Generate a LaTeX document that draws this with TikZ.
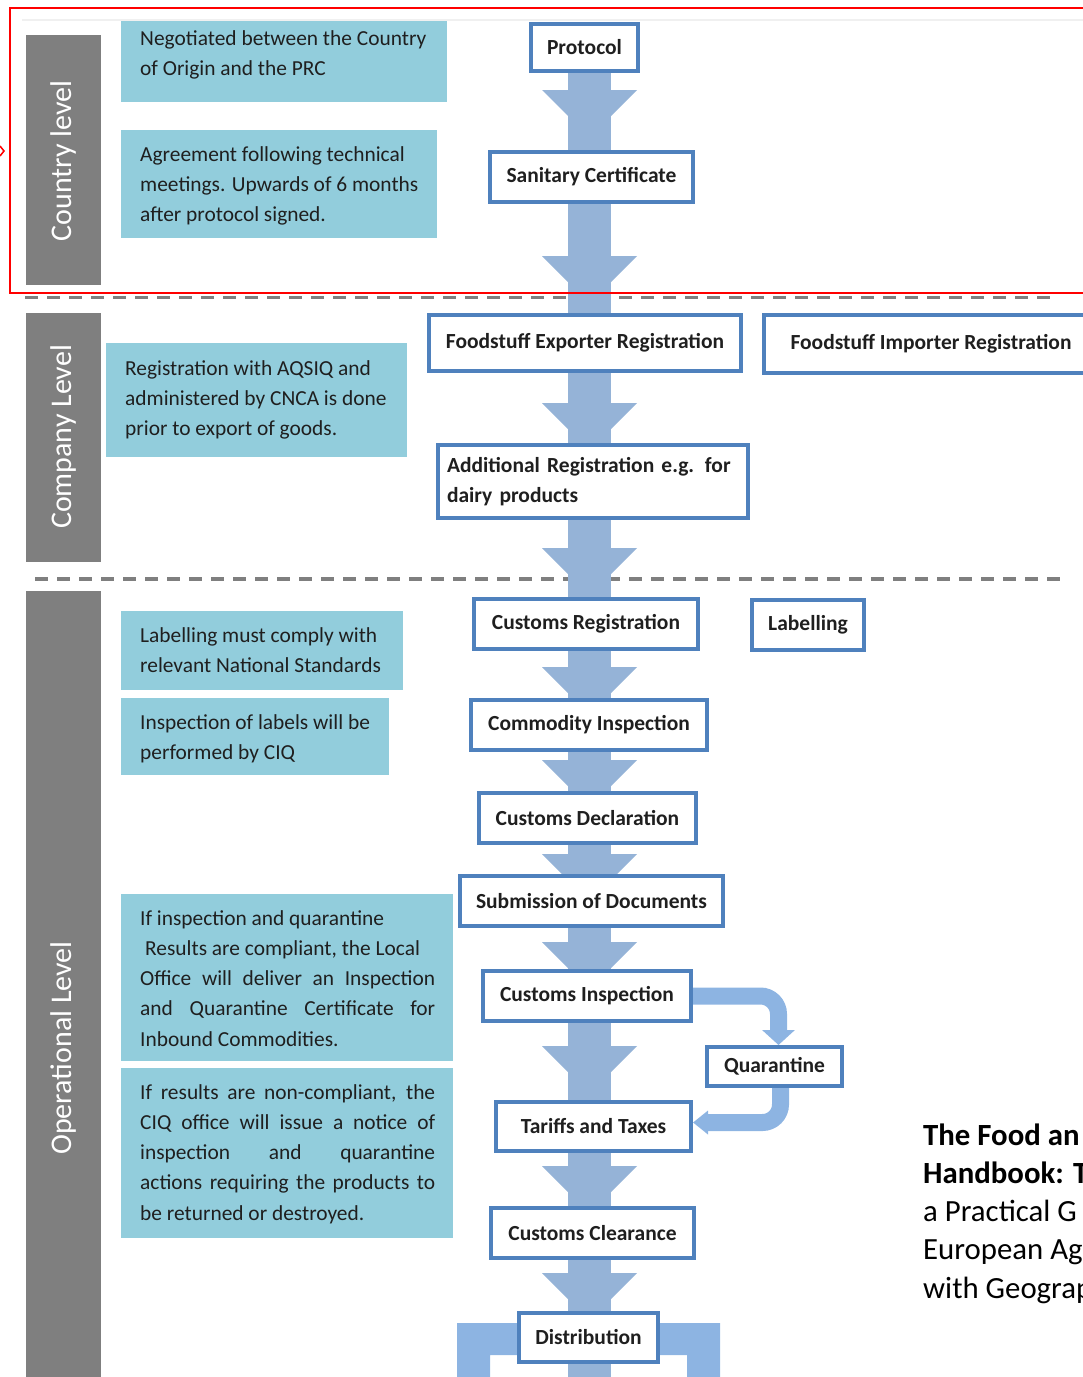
\documentclass[tikz,border=0pt]{standalone}
\usepackage{fontspec}
\setmainfont{Carlito}
\usetikzlibrary{arrows.meta,backgrounds,calc}

\definecolor{boxblue}{HTML}{4F81BD}
\definecolor{shaftblue}{HTML}{95B3D7}
\definecolor{bendblue}{HTML}{8DB4E2}
\definecolor{noteteal}{HTML}{92CDDC}
\definecolor{bargray}{HTML}{7F7F7F}
\definecolor{inkgray}{HTML}{1F1F1F}

\newcommand{\jl}[1]{\makebox[295pt][s]{#1}}

\begin{document}
\begin{tikzpicture}[x=1pt,y=-1pt]

    \tikzset{
      stepbox/.style={
        draw=boxblue,
        line width=4pt,
        fill=white,
        inner sep=0pt,
        text=inkgray,
        font=\fontsize{21.5}{30}\selectfont\bfseries,
      },
      note/.style={anchor=base west, inner sep=0pt, align=left, text=inkgray, font=\fontsize{21.4}{30.3}\selectfont},
      level/.style={rotate=90, text=white, font=\fontsize{30}{36}\selectfont},
      shaft/.style={draw=shaftblue, line width=43pt},
      bendarrow/.style={draw=bendblue, line width=17pt, rounded corners=18pt},
      dashline/.style={draw=bargray, dash pattern=on 13pt off 9pt},
    }
    \useasboundingbox (0,0) rectangle (1083,1377);
    \clip (0,0) rectangle (1083,1377);

    \draw[gray!12, line width=2pt] (22,20) -- (1083,20);
    \draw[red, line width=2.5pt] (10,8) rectangle (1090,293);
    \draw[red, line width=1.5pt] (0,146) -- (4,151) -- (0,156);

    \coordinate (sx) at (589.5,0);
    \coordinate (bot) at (589.5,1377);

    \node[stepbox, minimum width=107pt, minimum height=47pt] (proto) at (584.5,47.5) {Protocol};
    \node[stepbox, minimum width=203pt, minimum height=50pt] (sanit) at (591.5,177) {Sanitary Certificate};
    \node[stepbox, minimum width=312pt, minimum height=56pt] (expreg) at (585,343) {Foodstuff Exporter Registration};
    \node[stepbox, minimum width=334pt, minimum height=58pt] (impreg) at (931,344) {Foodstuff Importer Registration};
    \node[stepbox, minimum width=310pt, minimum height=73pt, text width=292pt, inner xsep=9pt, align=left] (addreg) at (593,481.5) {Additional Registration e.g. for\\dairy products};
    \node[stepbox, minimum width=224pt, minimum height=50pt] (custreg) at (586,624) {Customs Registration};
    \node[stepbox, minimum width=112pt, minimum height=50pt] (label) at (808,625) {Labelling};
    \node[stepbox, minimum width=236pt, minimum height=50pt] (commod) at (589,725) {Commodity Inspection};
    \node[stepbox, minimum width=217pt, minimum height=50pt] (decl) at (587.5,818) {Customs Declaration};
    \node[stepbox, minimum width=263pt, minimum height=50pt] (submit) at (591.5,901) {Submission of Documents};
    \node[stepbox, minimum width=208pt, minimum height=50pt] (cinsp) at (587,996) {Customs Inspection};
    \node[stepbox, minimum width=135pt, minimum height=39pt] (quar) at (774.5,1066.5) {Quarantine};
    \node[stepbox, minimum width=195pt, minimum height=49pt] (tariff) at (593.5,1126.5) {Tariffs and Taxes};
    \node[stepbox, minimum width=203pt, minimum height=50pt] (clear) at (592.5,1233) {Customs Clearance};
    \node[stepbox, minimum width=139pt, minimum height=49pt] (dist) at (588.5,1337.5) {Distribution};

    \node[level] (lvcountry) at (63.5,161) {Country level};
    \node[level] (lvcompany) at (63.5,437) {Company Level};
    \node[level] (lvoper) at (63.5,1048) {Operational Level};

    \node[note] (n1) at (140,75.3) {Negotiated between the Country\\of Origin and the PRC};
    \node[note] (n2) at (140,221.6) {Agreement following technical\\meetings. Upwards of 6 months\\after protocol signed.};
    \node[note] (n3) at (125,435.6) {Registration with AQSIQ and\\administered by CNCA is done\\prior to export of goods.};
    \node[note] (n4) at (140,672.3) {Labelling must comply with\\relevant National Standards};
    \node[note] (n5) at (140,759.3) {Inspection of labels will be\\performed by CIQ};
    \node[note] (n6) at (140,1046.2) {If inspection and quarantine\\\hspace{5pt}Results are compliant, the Local\\\jl{Office will deliver an Inspection}\\\jl{and Quarantine Certificate for}\\Inbound Commodities.};
    \node[note] (n7) at (140,1220.2) {\jl{If results are non-compliant, the}\\\jl{CIQ office will issue a notice of}\\\jl{inspection and quarantine}\\\jl{actions requiring the products to}\\be returned or destroyed.};

    \node[anchor=base west, inner sep=0pt, align=left, font=\fontsize{30.8}{38.3}\selectfont] (book) at (923,1298.2) {\textbf{The Food an}\\\textbf{Handbook: T}\\a Practical G\\European Ag\\with Geograp};

    \begin{scope}[on background layer]
      \fill[noteteal] (121,20) rectangle (447,102);
      \fill[noteteal] (121,130) rectangle (437,238);
      \fill[noteteal] (106,343) rectangle (407,457);
      \fill[noteteal] (121,611) rectangle (403,690);
      \fill[noteteal] (121,698) rectangle (389,775);
      \fill[noteteal] (121,894) rectangle (453,1061);
      \fill[noteteal] (121,1068) rectangle (453,1238);

      \fill[bargray] (26,35) rectangle (101,285);
      \fill[bargray] (26,313) rectangle (101,562);
      \fill[bargray] (26,591) rectangle (101,1377);

      \draw[dashline, line width=3pt] (25,297) -- (1050,297);
      \draw[dashline, line width=4.5pt] (35,579) -- (1062,579);

      \foreach \a/\b in {proto/sanit,sanit/expreg,expreg/addreg,addreg/custreg,custreg/commod,commod/decl,decl/submit,submit/cinsp,cinsp/tariff,tariff/clear,clear/dist}
        \draw[shaft] (\a.south -| sx) -- (\b.north -| sx);
      \draw[shaft] (dist.south -| sx) -- (bot);
      \foreach \hy in {90,256,403,548,667,760,854,942,1046,1166,1273}
        \fill[shaftblue] (542,\hy) -- (637,\hy) -- (589.5,\hy+47.5) -- cycle;

      \fill[bendblue] (dist.west |- 0,1323) -- (457,1323) -- (457,1377) -- (490,1377) -- (490,1355) -- (dist.west |- 0,1355) -- cycle;
      \fill[bendblue] (dist.east |- 0,1323) -- (720,1323) -- (720,1377) -- (687,1377) -- (687,1355) -- (dist.east |- 0,1355) -- cycle;

      \draw[bendarrow, -{Triangle[width=32pt,length=15pt]}] (cinsp.east) -| ($(quar.north)+(4,0)$);
      \draw[bendarrow, -{Triangle[width=23pt,length=15pt]}] ($(quar.south)+(6,0)$) |- ($(tariff.east)+(0,-4)$);
    \end{scope}

\end{tikzpicture}
\end{document}
